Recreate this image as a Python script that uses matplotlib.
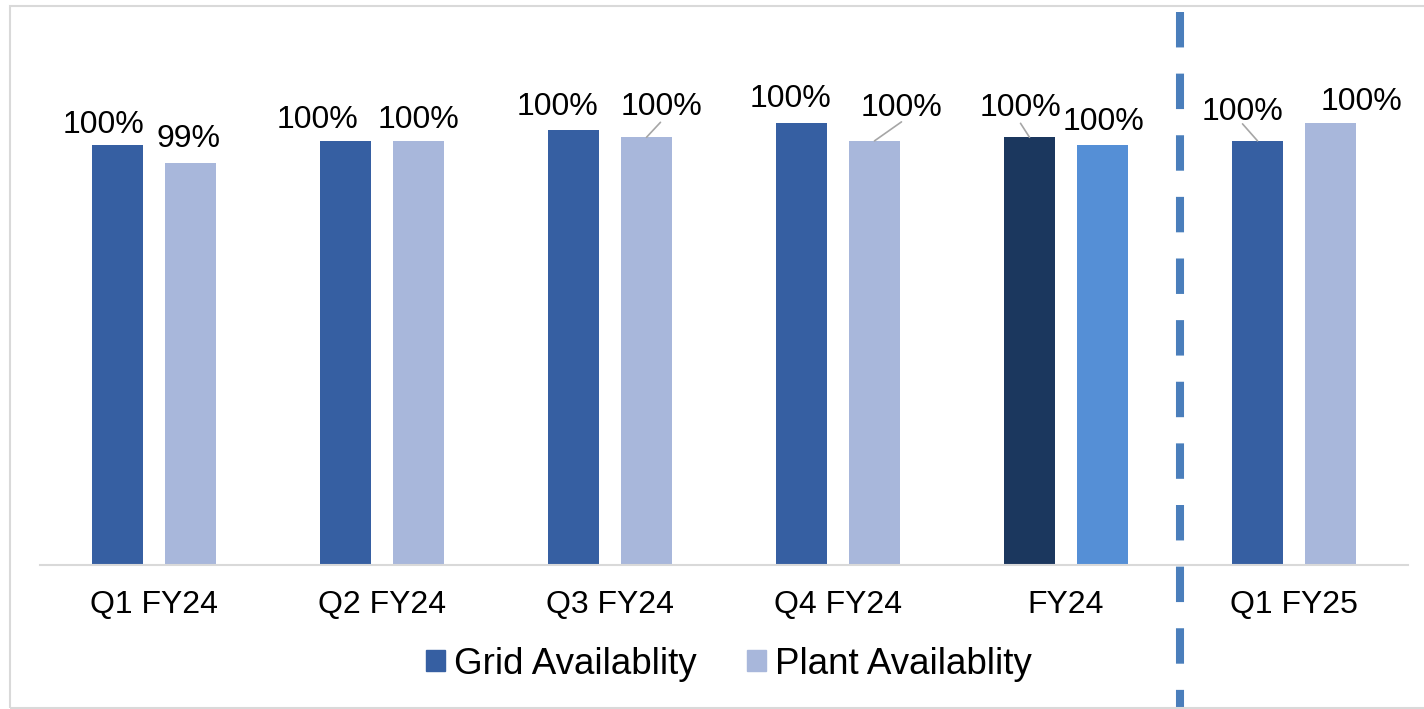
import matplotlib.pyplot as plt
from matplotlib.patches import Patch, Rectangle
import numpy as np

plt.rcParams['font.family'] = ['Liberation Sans', 'DejaVu Sans']

periods = ["Q1 FY24", "Q2 FY24", "Q3 FY24", "Q4 FY24", "FY24", "Q1 FY25"]
grid_avail = [99.67, 99.73, 99.88, 99.98, 99.78, 99.73]
plant_avail = [99.42, 99.73, 99.78, 99.73, 99.67, 99.98]

# bar colours; the full-year pair gets its own shades
grid_colors = ['#365FA2'] * 4 + ['#1B375E', '#365FA2']
plant_colors = ['#A8B7DB'] * 4 + ['#558FD6', '#A8B7DB']

# label offsets from bar top (pixels) and which labels get a leader line
grid_offsets = [(-14, 12), (-28, 13), (-16, 15), (-11, 16), (-9, 21), (-15, 21)]
plant_offsets = [(-2, 16), (0, 13), (15, 22), (27, 25), (1, 15), (31, 13)]
grid_leader = [None, None, None, None, (-9, 14), (-15, 17)]
plant_leader = [None, None, (14, 15), (27, 19), None, None]

fig = plt.figure(figsize=(14.24, 7.09), dpi=100, facecolor='w')
ax = fig.add_axes([40 / 1424, 144 / 709, 1368 / 1424, 553 / 709])

x = np.arange(len(periods))
w = 0.224
ax.bar(x - 0.16, grid_avail, w, color=grid_colors, bottom=0)
ax.bar(x + 0.16, plant_avail, w, color=plant_colors, bottom=0)

ax.set_xlim(-0.5, len(periods) - 0.5)
ax.set_ylim(93.79, 101.535)


def put_labels(xs, vals, offsets, leaders):
    for xi, v, (dx, dy), ld in zip(xs, vals, offsets, leaders):
        ax.annotate(f"{v:.0f}%", xy=(xi, v), xytext=(dx, dy),
                    textcoords='offset pixels', ha='center', va='baseline',
                    fontsize=23, color='#000000')
        if ld is not None:
            ax.annotate('', xy=(xi, v), xytext=ld, textcoords='offset pixels',
                        arrowprops=dict(arrowstyle='-', color='#A6A6A6', lw=1.2,
                                        shrinkA=0, shrinkB=0))


put_labels(x - 0.16, grid_avail, grid_offsets, grid_leader)
put_labels(x + 0.16, plant_avail, plant_offsets, plant_leader)

for s in ['top', 'right', 'left']:
    ax.spines[s].set_visible(False)
ax.spines['bottom'].set_color('#D9D9D9')
ax.spines['bottom'].set_linewidth(1.5)
ax.set_yticks([])
ax.set_xticks(x)
ax.set_xticklabels(periods, fontsize=23)
ax.tick_params(axis='x', length=0, pad=18)

# dashed separator between full year and the new quarter
ax.plot([4.5, 4.5], [1, -0.32], transform=ax.get_xaxis_transform(),
        color='#4A7EBB', lw=5.8, linestyle=(0, (4.4, 3.25)),
        solid_capstyle='butt', dash_capstyle='butt', clip_on=False)

handles = [Patch(color='#365FA2', label='Grid Availablity'),
           Patch(color='#A8B7DB', label='Plant Availablity')]
fig.legend(handles=handles, loc='center', bbox_to_anchor=(729 / 1424, 45 / 709),
           ncol=2, frameon=False, fontsize=26.5, handlelength=0.52,
           handleheight=0.52, handletextpad=0.25, columnspacing=1.36,
           borderpad=0.2)

# outer frame
fig.patches.append(Rectangle((10 / 1424, 1.5 / 709), 1.2, 701.5 / 709,
                             transform=fig.transFigure, fill=False,
                             edgecolor='#D9D9D9', lw=1.5))

fig.savefig('out.png', dpi=100, facecolor='w')
